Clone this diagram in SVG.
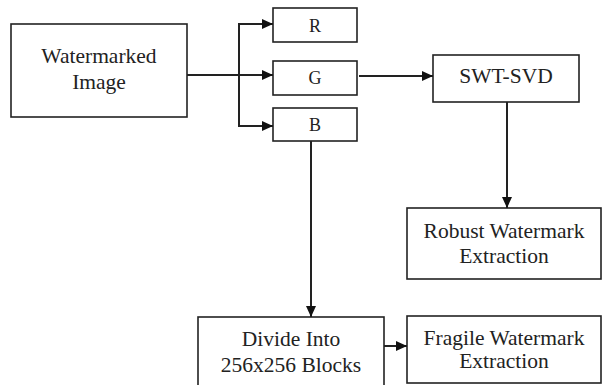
<svg xmlns="http://www.w3.org/2000/svg" width="602" height="385" viewBox="0 0 602 385">
<defs>
<marker id="ah" markerWidth="11" markerHeight="10" refX="11" refY="5" orient="auto" markerUnits="userSpaceOnUse">
<path d="M0,0 L11,5 L0,10 Z" fill="#111"/>
</marker>
<style>
.box{fill:#fff;stroke:#222;stroke-width:1.6}
.t{font-family:"Liberation Serif","Times New Roman",serif;font-size:21.5px;fill:#222;text-anchor:middle}
.s{font-size:18px}
.c{fill:none;stroke:#222;stroke-width:2}
</style>
</defs>
<rect width="602" height="385" fill="#fff"/>
<g id="watermarked">
<rect class="box" x="11" y="24" width="176" height="93"/>
<text class="t" x="99" y="63">Watermarked</text>
<text class="t" x="99" y="89">Image</text>
</g>
<g id="R">
<rect class="box" x="273" y="8" width="84" height="34"/>
<text class="t s" x="315" y="32">R</text>
</g>
<g id="G">
<rect class="box" x="273" y="61" width="84" height="34"/>
<text class="t s" x="315" y="84">G</text>
</g>
<g id="B">
<rect class="box" x="273" y="108" width="84" height="33"/>
<text class="t s" x="315" y="131">B</text>
</g>
<g id="swtsvd">
<rect class="box" x="433" y="55" width="146" height="47"/>
<text class="t" x="506" y="83">SWT-SVD</text>
</g>
<g id="robust">
<rect class="box" x="407" y="208" width="194" height="71"/>
<text class="t" x="504" y="238">Robust Watermark</text>
<text class="t" x="504" y="263">Extraction</text>
</g>
<g id="divide">
<rect class="box" x="198" y="317" width="186" height="72"/>
<text class="t" x="291" y="346">Divide Into</text>
<text class="t" x="291" y="372">256x256 Blocks</text>
</g>
<g id="fragile">
<rect class="box" x="407" y="316" width="194" height="67"/>
<text class="t" x="504" y="345">Fragile Watermark</text>
<text class="t" x="504" y="368">Extraction</text>
</g>
<g id="connectors">
<path class="c" d="M187,75 H239"/>
<path class="c" d="M239,24 V126"/>
<path class="c" d="M238,24 H273" marker-end="url(#ah)"/>
<path class="c" d="M239,75 H273" marker-end="url(#ah)"/>
<path class="c" d="M238,126 H273" marker-end="url(#ah)"/>
<path class="c" d="M359,76 H433" marker-end="url(#ah)"/>
<path class="c" d="M507,102 V208" marker-end="url(#ah)"/>
<path class="c" d="M311,141 V317" marker-end="url(#ah)"/>
<path class="c" d="M384,346 H407" marker-end="url(#ah)"/>
</g>
</svg>
